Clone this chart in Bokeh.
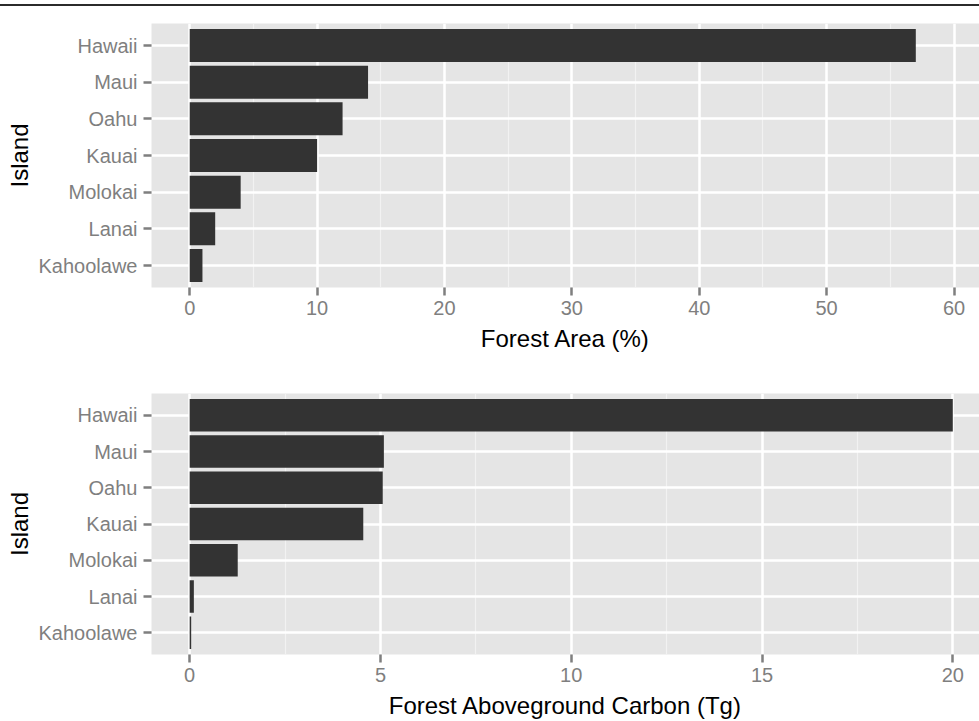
from bokeh.plotting import figure
from bokeh.models import Range1d, FactorRange, FixedTicker, Div
from bokeh.layouts import column
from bokeh.embed import file_html
from bokeh.resources import INLINE

islands = ["Hawaii", "Maui", "Oahu", "Kauai", "Molokai", "Lanai", "Kahoolawe"]
forest_area_pct = [57, 14, 12, 10, 4, 2, 1]
carbon_tg = [20.0, 5.09, 5.06, 4.55, 1.26, 0.11, 0.04]

area_ticks = [0, 10, 20, 30, 40, 50, 60]
area_minor = [5, 15, 25, 35, 45, 55]
carbon_ticks = [0, 5, 10, 15, 20]
carbon_minor = [2.5, 7.5, 12.5, 17.5]

FONT = "Liberation Sans"


def make(values, xr, ticks, minor, xlabel, height, btop, bbottom):
    p = figure(
        width=979, height=height,
        x_range=xr,
        y_range=FactorRange(factors=list(reversed(islands)),
                            range_padding=0.1, range_padding_units="absolute"),
        output_backend="svg", toolbar_location=None,
        min_border_left=151, min_border_right=0,
        min_border_top=btop, min_border_bottom=bbottom,
    )
    p.hbar(y=islands, left=0, right=values, height=0.9,
           fill_color="#333333", line_color=None)
    p.background_fill_color = "#E5E5E5"
    p.border_fill_color = "white"
    p.outline_line_color = None

    tk = FixedTicker(ticks=ticks, minor_ticks=minor)
    p.xaxis.ticker = tk
    p.xgrid.ticker = tk
    p.xgrid.grid_line_color = "white"
    p.xgrid.grid_line_width = 2.5
    p.xgrid.minor_grid_line_color = "#F2F2F2"
    p.xgrid.minor_grid_line_width = 1.2
    p.ygrid.grid_line_color = "white"
    p.ygrid.grid_line_width = 2.5

    for ax in (p.xaxis[0], p.yaxis[0]):
        ax.axis_line_color = None
        ax.major_tick_line_color = "#7F7F7F"
        ax.major_tick_line_width = 2.5
        ax.major_tick_out = 8
        ax.major_tick_in = 0
        ax.minor_tick_line_color = None
        ax.major_label_text_font = FONT
        ax.major_label_text_font_size = "20px"
        ax.major_label_text_color = "#7F7F7F"
        ax.axis_label_text_font = FONT
        ax.axis_label_text_font_size = "24px"
        ax.axis_label_text_font_style = "normal"
        ax.axis_label_text_color = "black"
    p.xaxis.axis_label_standoff = 7
    p.yaxis.axis_label_standoff = 3
    p.xaxis.major_label_standoff = 5
    p.yaxis.major_label_standoff = 6
    p.xaxis.axis_label = xlabel
    p.yaxis.axis_label = "Island"
    return p


top_line = Div(text="", width=979, height=2, margin=(4, 0, 0, 0),
               styles={"background-color": "#2b2b2b"})

p1 = make(forest_area_pct, Range1d(-3.0, 62.0), area_ticks, area_minor,
          "Forest Area (%)", 359, 17, 78)
p2 = make(carbon_tg, Range1d(-1.0, 20.7), carbon_ticks, carbon_minor,
          "Forest Aboveground Carbon (Tg)", 356, 28, 67)

layout = column(top_line, p1, p2, spacing=0)

with open("out.html", "w") as f:
    f.write(file_html(layout, INLINE))
